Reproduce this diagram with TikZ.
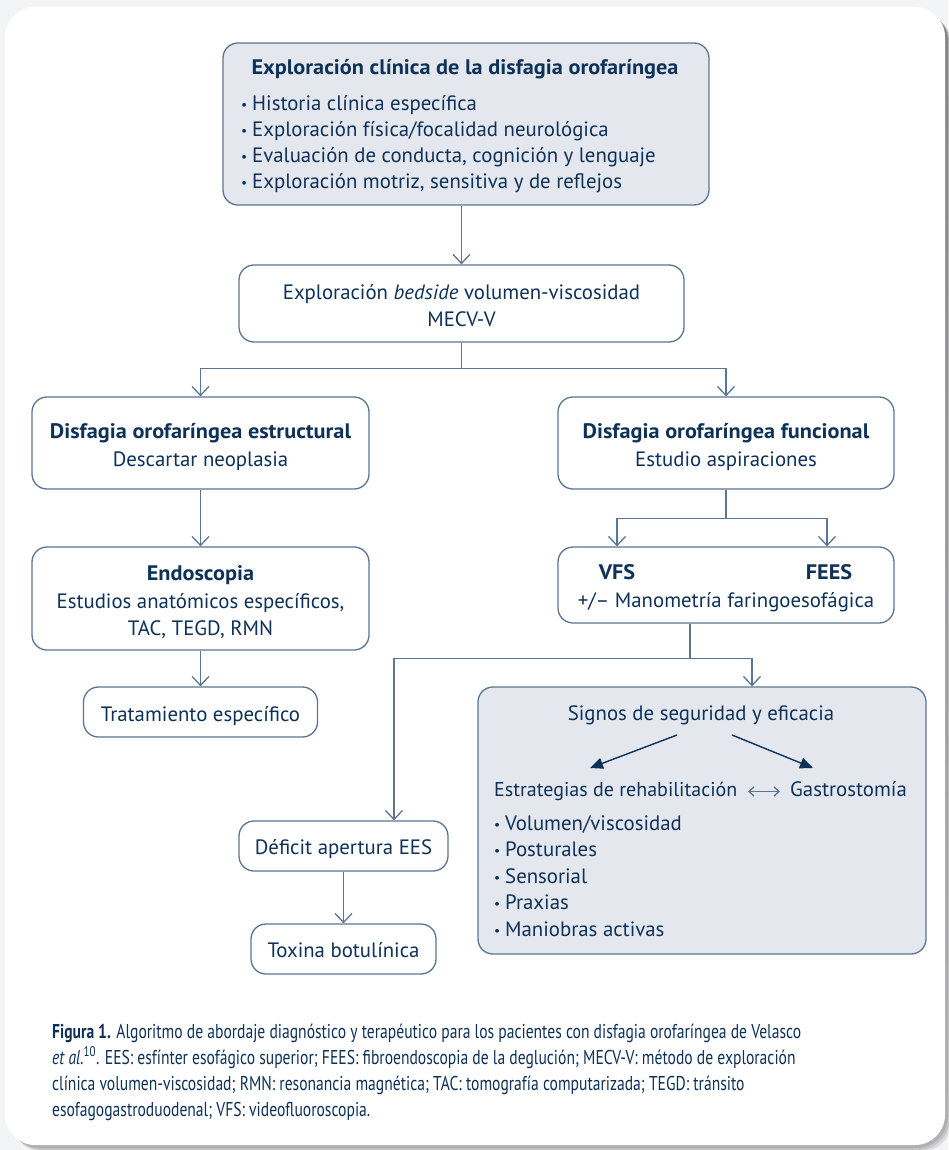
\documentclass[tikz,border=0pt]{standalone}
\usepackage{graphicx}
\usepackage{fontspec}
\setmainfont{PT Sans}
\newfontfamily\hdfont[FakeStretch=1.06]{PT Sans}
\newfontfamily\capfont[FakeStretch=0.78]{PT Sans}
\usetikzlibrary{arrows.meta}

\definecolor{ink}{HTML}{0E3158}
\definecolor{edge}{HTML}{5B7692}
\definecolor{boxfill}{HTML}{E4E8EE}
\definecolor{pagebg}{HTML}{F3F4F5}
\definecolor{shade}{HTML}{B4C4D2}

\newcommand\bul{\makebox[11pt][l]{\raisebox{1pt}{\scalebox{0.65}{•}}}}

\tikzset{
  box/.style={draw=edge, line width=1.3pt, rounded corners=15pt, inner sep=0pt},
  shadedbox/.style={box, fill=boxfill},
  txt/.style={text=ink, inner sep=0pt, anchor=base, font=\fontsize{20.8}{26}\selectfont},
  txtl/.style={txt, anchor=base west},
  hd/.style={txt, font=\hdfont\bfseries\fontsize{21}{26}\selectfont},
  captxt/.style={text=ink, inner sep=0pt, anchor=base west, font=\capfont\fontsize{20}{26}\selectfont},
  flow/.style={draw=edge, line width=1.3pt},
  flowarrow/.style={flow, -{Straight Barb[length=9pt,width=17pt,line width=1.3pt]}},
  choice/.style={draw=ink, line width=1.4pt, -{Triangle[length=13pt,width=11pt]}},
  swap/.style={draw=edge, line width=1.3pt, {Straight Barb[length=5pt,width=9pt]}-{Straight Barb[length=5pt,width=9pt]}},
}

\begin{document}
\begin{tikzpicture}[x=1pt,y=-1pt]
\useasboundingbox (0,0) rectangle (948,1150);
% page and panel
\fill[pagebg] (0,0) rectangle (948,1150);
\foreach \o/\a in {7/0.10,5/0.15,3/0.2}
  \fill[shade, opacity=\a, rounded corners=32pt] (5+\o,7+\o) rectangle (945+\o,1145+\o);
\fill[white, rounded corners=30pt] (5,7) rectangle (945,1145);

% boxes
\node[shadedbox, minimum width=486pt, minimum height=162pt] (explo) at (466,124) {};
\node[box, minimum width=445pt, minimum height=77pt] (bedside) at (461.5,303.5) {};
\node[box, minimum width=337pt, minimum height=92pt] (estr) at (200.5,443) {};
\node[box, minimum width=336pt, minimum height=92pt] (func) at (726,443) {};
\node[box, minimum width=337pt, minimum height=103pt] (endo) at (200.5,598.5) {};
\node[box, minimum width=336pt, minimum height=76pt] (vfs) at (726,585) {};
\node[box, minimum width=234pt, minimum height=50pt] (trat) at (200.5,712) {};
\node[shadedbox, minimum width=448pt, minimum height=267pt] (signos) at (702,820.5) {};
\node[box, minimum width=209pt, minimum height=50pt] (deficit) at (343.5,846) {};
\node[box, minimum width=185pt, minimum height=50pt] (toxina) at (343.5,949) {};

% texts
\node[hd] (exploT) at (465,75) {Exploración clínica de la disfagia orofaríngea};
\node[txtl] (e1) at (241,111) {\bul Historia clínica específica};
\node[txtl] (e2) at (241,137) {\bul Exploración física/focalidad neurológica};
\node[txtl] (e3) at (241,163) {\bul Evaluación de conducta, cognición y lenguaje};
\node[txtl] (e4) at (241,189) {\bul Exploración motriz, sensitiva y de reflejos};

\node[txt] (bed1) at (461.5,299) {Exploración \textit{bedside} volumen-viscosidad};
\node[txt] (bed2) at (461.5,326) {MECV-V};

\node[hd] (estr1) at (200.5,438) {Disfagia orofaríngea estructural};
\node[txt] (estr2) at (200.5,466) {Descartar neoplasia};

\node[hd] (func1) at (726,438) {Disfagia orofaríngea funcional};
\node[txt] (func2) at (726,466) {Estudio aspiraciones};

\node[hd] (endo1) at (200.5,580) {Endoscopia};
\node[txt] (endo2) at (200.5,608) {Estudios anatómicos específicos,};
\node[txt] (endo3) at (200.5,635) {TAC, TEGD, RMN};

\node[hd] (vfsT) at (617,579) {VFS};
\node[hd] (feesT) at (829,579) {FEES};
\node[txt] (mano) at (726,607) {+/– Manometría faringoesofágica};

\node[txt] (tratT) at (200.5,721) {Tratamiento específico};

\node[txt] (signosT) at (701,720) {Signos de seguridad y eficacia};
\node[txtl, font=\fontsize{20}{26}\selectfont] (estrat) at (494,796) {Estrategias de rehabilitación};
\node[txtl] (gastro) at (790,796) {Gastrostomía};
\node[txtl] (r1) at (494,830) {\bul Volumen/viscosidad};
\node[txtl] (r2) at (494,856.5) {\bul Posturales};
\node[txtl] (r3) at (494,883) {\bul Sensorial};
\node[txtl] (r4) at (494,909.5) {\bul Praxias};
\node[txtl] (r5) at (494,936) {\bul Maniobras activas};

\node[txt] (defT) at (343.5,854) {Déficit apertura EES};
\node[txt] (toxT) at (343.5,957) {Toxina botulínica};

% connectors
\draw[flowarrow] (bedside.north |- explo.south) -- (bedside.north);
\draw[flow] (bedside.south) -- ++(0,26) coordinate (split1);
\draw[flowarrow] (split1) -| (estr.north);
\draw[flowarrow] (split1) -| (func.north);
\draw[flowarrow] (estr.south) -- (endo.north);
\draw[flowarrow] (endo.south) -- (trat.north);
\draw[flow] (func.south) -- ++(0,29) coordinate (split2);
\draw[flowarrow] (split2) -| ([xshift=-109pt]vfs.north);
\draw[flowarrow] (split2) -| ([xshift=101pt]vfs.north);
\draw[flow] ([xshift=-36pt]vfs.south) -- ++(0,35) coordinate (split3);
\draw[flowarrow] (split3) -| ([xshift=50pt]signos.north);
\draw[flowarrow] (split3) -| ([xshift=50.5pt]deficit.north);
\draw[flowarrow] (deficit.south) -- (toxina.north);

% choices inside the signs box
\coordinate (chL0) at (677,735);
\coordinate (chL1) at (590,768);
\coordinate (chR0) at (732,735);
\coordinate (chR1) at (813,768);
\draw[choice] (chL0) -- (chL1);
\draw[choice] (chR0) -- (chR1);
\coordinate (sw0) at (748,791.5);
\coordinate (sw1) at (780,791.5);
\draw[swap] (sw0) -- (sw1);

% caption
\node[captxt] (cap1) at (52,1038) {\textbf{Figura 1.} Algoritmo de abordaje diagnóstico y terapéutico para los pacientes con disfagia orofaríngea de Velasco};
\node[captxt] (cap2) at (52,1064) {\textit{et al.}\textsuperscript{10}. EES: esfínter esofágico superior; FEES: fibroendoscopia de la deglución; MECV-V: método de exploración};
\node[captxt] (cap3) at (52,1090) {clínica volumen-viscosidad; RMN: resonancia magnética; TAC: tomografía computarizada; TEGD: tránsito};
\node[captxt] (cap4) at (52,1116) {esofagogastroduodenal; VFS: videofluoroscopia.};
\end{tikzpicture}
\end{document}
